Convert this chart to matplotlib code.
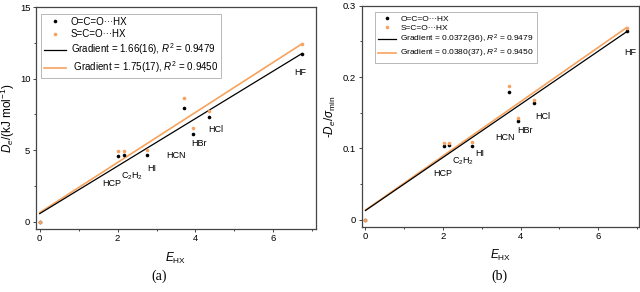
import matplotlib
matplotlib.use("Agg")
import matplotlib.pyplot as plt
import numpy as np
from matplotlib.ticker import MultipleLocator, FuncFormatter

plt.rcParams['font.family'] = ['Liberation Sans', 'DejaVu Sans']
plt.rcParams['mathtext.fontset'] = 'custom'
plt.rcParams['mathtext.rm'] = 'Liberation Sans'
plt.rcParams['mathtext.it'] = 'Liberation Sans:italic'

molecules = ["HCP", "C$_2$H$_2$", "HI", "HCN", "HBr", "HCl", "HF"]
E_hx = [0.0, 2.02, 2.16, 2.76, 3.71, 3.94, 4.35, 6.74]

De_oco = [0.0, 4.58, 4.67, 4.63, 7.94, 6.10, 7.29, 11.75]
De_sco = [0.0, 4.91, 4.93, 5.00, 8.62, 6.57, 7.71, 12.40]
ratio_oco = [0.0, 0.1034, 0.1050, 0.1030, 0.1790, 0.1380, 0.1640, 0.2650]
ratio_sco = [0.0, 0.1070, 0.1070, 0.1090, 0.1877, 0.1430, 0.1680, 0.2695]

fit_a = {"slope": [1.66, 1.75], "intercept": [0.57, 0.64]}
fit_b = {"slope": [0.0372, 0.0380], "intercept": [0.0130, 0.0135]}
fit_x = [0.0, 6.74]

labels_a = ["Gradient = 1.66(16), $R^2$ = 0.9479", " Gradient = 1.75(17), $R^2$ = 0.9450"]
labels_b = ["Gradient = 0.0372(36), $R^2$ = 0.9479", "Gradient = 0.0380(37), $R^2$ = 0.9450"]
series_names = ["O=C=O\u00b7\u00b7\u00b7HX", "S=C=O\u00b7\u00b7\u00b7HX"]

lab_pos_a = [(1.85, 2.69), (2.38, 3.2), (2.87, 3.69), (3.49, 4.63), (4.08, 5.44), (4.52, 6.47), (6.69, 10.4)]
lab_pos_b = [(2.0, 0.0646), (2.53, 0.0814), (2.96, 0.0927), (3.59, 0.1156), (4.12, 0.1245), (4.58, 0.1455), (6.84, 0.234)]

BLACK = "#000000"
ORANGE = "#F6A262"
ORANGE_LINE = "#F8A25C"
SPINE = "#444444"


def tick_fmt(v, pos):
    if abs(v) < 1e-12:
        return "0"
    return f"{v:g}"


fig = plt.figure(figsize=(6.4, 2.92), dpi=100)
axA = fig.add_axes([0.056, 0.216, 0.438, 0.760])
axB = fig.add_axes([0.565, 0.223, 0.433, 0.757])


def draw(ax, yo, ys, fit, labels, labpos, xlim, ylim, ymaj, ymin, legfs, ylabel, leg_anchor, ylab_x, lspace):
    xs = np.array(fit_x)
    ax.plot(E_hx, yo, 'o', color=BLACK, ms=2.6, mew=0, label=series_names[0], zorder=4)
    ax.plot(E_hx, ys, 'o', color=ORANGE, ms=2.6, mew=0, label=series_names[1], zorder=5)
    ax.plot(xs, fit["intercept"][0] + fit["slope"][0] * xs, '-', color=BLACK, lw=0.9, label=labels[0], zorder=3)
    ax.plot(xs, fit["intercept"][1] + fit["slope"][1] * xs, '-', color=ORANGE_LINE, lw=1.2, label=labels[1], zorder=2)
    for name, (x, y) in zip(molecules, labpos):
        ax.text(x, y, name, fontsize=6.5, ha='center', va='center')
    ax.set_xlim(*xlim)
    ax.set_ylim(*ylim)
    ax.xaxis.set_major_locator(MultipleLocator(2))
    ax.xaxis.set_minor_locator(MultipleLocator(1))
    ax.yaxis.set_major_locator(MultipleLocator(ymaj))
    ax.yaxis.set_minor_locator(MultipleLocator(ymin))
    ax.yaxis.set_major_formatter(FuncFormatter(tick_fmt))
    ax.tick_params(which='both', direction='out', labelsize=6.8, width=0.7, pad=1.5, color=SPINE)
    ax.tick_params(which='major', length=2.5)
    ax.tick_params(which='minor', length=1.5)
    for s in ax.spines.values():
        s.set_linewidth(0.9)
        s.set_color(SPINE)
    ax.set_xlabel(r"$E_{\mathrm{HX}}$", fontsize=8.5, labelpad=5)
    ax.set_ylabel(ylabel, fontsize=8.5)
    ax.yaxis.set_label_coords(ylab_x, 0.5)
    leg = ax.legend(loc='upper left', bbox_to_anchor=leg_anchor, fontsize=legfs, frameon=True,
                    fancybox=False, edgecolor='#999999', handlelength=2.2, handletextpad=0.5,
                    borderpad=0.3, labelspacing=lspace, borderaxespad=0.0)
    leg.get_frame().set_linewidth(0.6)


draw(axA, De_oco, De_sco, fit_a, labels_a, lab_pos_a, (-0.1, 7.1), (-0.5, 15), 5, 2.5, 7,
     r"$D_e$/(kJ mol$^{-1}$)", (0.02, 0.97), -0.068, 0.25)
draw(axB, ratio_oco, ratio_sco, fit_b, labels_b, lab_pos_b, (-0.1, 7.05), (-0.01, 0.3), 0.1, 0.05, 6,
     r"-$D_e$/$\sigma_{\mathrm{min}}$", (0.05, 0.97), -0.086, 0.12)

fig.text(0.248, 0.055, "(a)", fontsize=10, family='Liberation Serif', ha='center', va='center')
fig.text(0.780, 0.055, "(b)", fontsize=10, family='Liberation Serif', ha='center', va='center')

fig.savefig("out.png", dpi=100)
